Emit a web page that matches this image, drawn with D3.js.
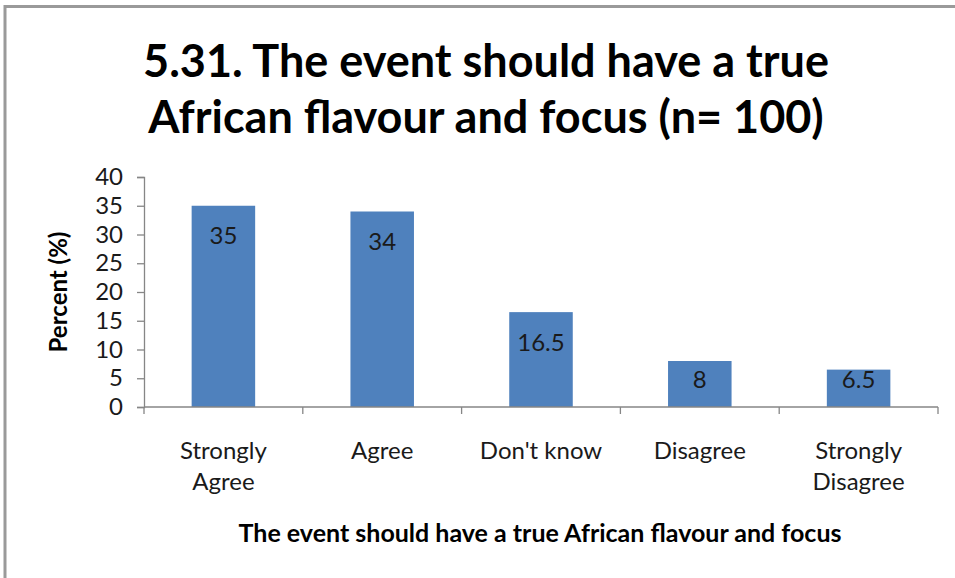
<!DOCTYPE html>
<html>
<head>
<meta charset="utf-8">
<script src="https://cdn.jsdelivr.net/npm/d3@7"></script>
<style>
  html, body { margin: 0; padding: 0; background: #fff; }
  svg { display: block; font-family: Lato, "Open Sans", sans-serif; }
</style>
</head>
<body>
<svg id="chart" width="955" height="578"></svg>
<script>
// Survey responses, percent of respondents
const categories = [["Strongly", "Agree"], ["Agree"], ["Don't know"], ["Disagree"], ["Strongly", "Disagree"]];
const percents = [35, 34, 16.5, 8, 6.5];
const yTicks = [0, 5, 10, 15, 20, 25, 30, 35, 40];
const titleLines = ["5.31. The event should have a true", "African flavour and focus (n= 100)"];
const yTitle = "Percent (%)";
const xTitle = "The event should have a true African flavour and focus";

const svg = d3.select("#chart");
const W = 955, H = 578;
const plot = { left: 144, right: 938, top: 177, bottom: 407 };

// frame edges (left and top)
svg.append("line").attr("x1", 5).attr("y1", 6.5).attr("x2", W).attr("y2", 6.5)
  .attr("stroke", "#9a9a9a").attr("stroke-width", 3);
svg.append("line").attr("x1", 5).attr("y1", 5).attr("x2", 5).attr("y2", H)
  .attr("stroke", "#9a9a9a").attr("stroke-width", 3);

// title
const title = svg.append("text").attr("text-anchor", "middle")
  .attr("font-weight", "bold").attr("font-size", 45).attr("fill", "#000");
titleLines.forEach((t, i) => {
  title.append("tspan").attr("x", 486).attr("y", 77 + i * 56).text(t);
});

const idx = d3.range(percents.length);
const x = d3.scaleBand().domain(idx).range([plot.left, plot.right]).paddingInner(0.6).paddingOuter(0.3);
const y = d3.scaleLinear().domain([0, 40]).range([plot.bottom, plot.top]);

// bars
svg.append("g").selectAll("rect").data(idx).join("rect")
  .attr("x", i => x(i))
  .attr("width", x.bandwidth())
  .attr("y", i => y(percents[i]))
  .attr("height", i => y(0) - y(percents[i]))
  .attr("fill", "#4f81bd");

// value labels inside the bar tops
svg.append("g").selectAll("text").data(idx).join("text")
  .attr("x", i => x(i) + x.bandwidth() / 2)
  .attr("y", i => Math.min(y(percents[i]) + 30, y(0) - 27))
  .attr("dy", "0.35em")
  .attr("text-anchor", "middle")
  .attr("font-size", 24)
  .attr("fill", "#1a1a1a")
  .text(i => d3.format("")(percents[i]));

// y axis
const yAxis = svg.append("g").attr("transform", `translate(${plot.left},0)`)
  .call(d3.axisLeft(y).tickValues(yTicks).tickSize(7).tickPadding(14));
yAxis.select(".domain").attr("stroke", "#868686").attr("stroke-width", 1.3);
yAxis.selectAll(".tick line").attr("stroke", "#868686").attr("stroke-width", 1.3);
yAxis.selectAll(".tick text").attr("font-size", 24).attr("fill", "#1a1a1a").attr("font-family", "Lato, sans-serif");

// x axis: ticks on category boundaries
const bounds = d3.range(percents.length + 1).map(i => plot.left + i * x.step());
const xg = svg.append("g");
xg.append("line").attr("x1", plot.left).attr("x2", plot.right)
  .attr("y1", y(0)).attr("y2", y(0)).attr("stroke", "#868686").attr("stroke-width", 1.3);
xg.selectAll("line.tk").data(bounds).join("line").attr("class", "tk")
  .attr("x1", d => d).attr("x2", d => d).attr("y1", y(0)).attr("y2", y(0) + 7)
  .attr("stroke", "#868686").attr("stroke-width", 1.3);

// category labels
const cl = svg.append("g").selectAll("text").data(idx).join("text")
  .attr("text-anchor", "middle").attr("font-size", 24).attr("fill", "#1a1a1a");
cl.each(function (i) {
  const t = d3.select(this);
  categories[i].forEach((line, k) => {
    t.append("tspan").attr("x", x(i) + x.bandwidth() / 2).attr("y", 459 + k * 31).text(line);
  });
});

// axis titles
svg.append("text").attr("transform", "translate(67,292) rotate(-90)")
  .attr("text-anchor", "middle").attr("font-weight", "bold").attr("font-size", 24)
  .attr("fill", "#000").text(yTitle);
svg.append("text").attr("x", 540).attr("y", 542)
  .attr("text-anchor", "middle").attr("font-weight", "bold").attr("font-size", 25)
  .attr("fill", "#000").text(xTitle);
</script>
</body>
</html>
